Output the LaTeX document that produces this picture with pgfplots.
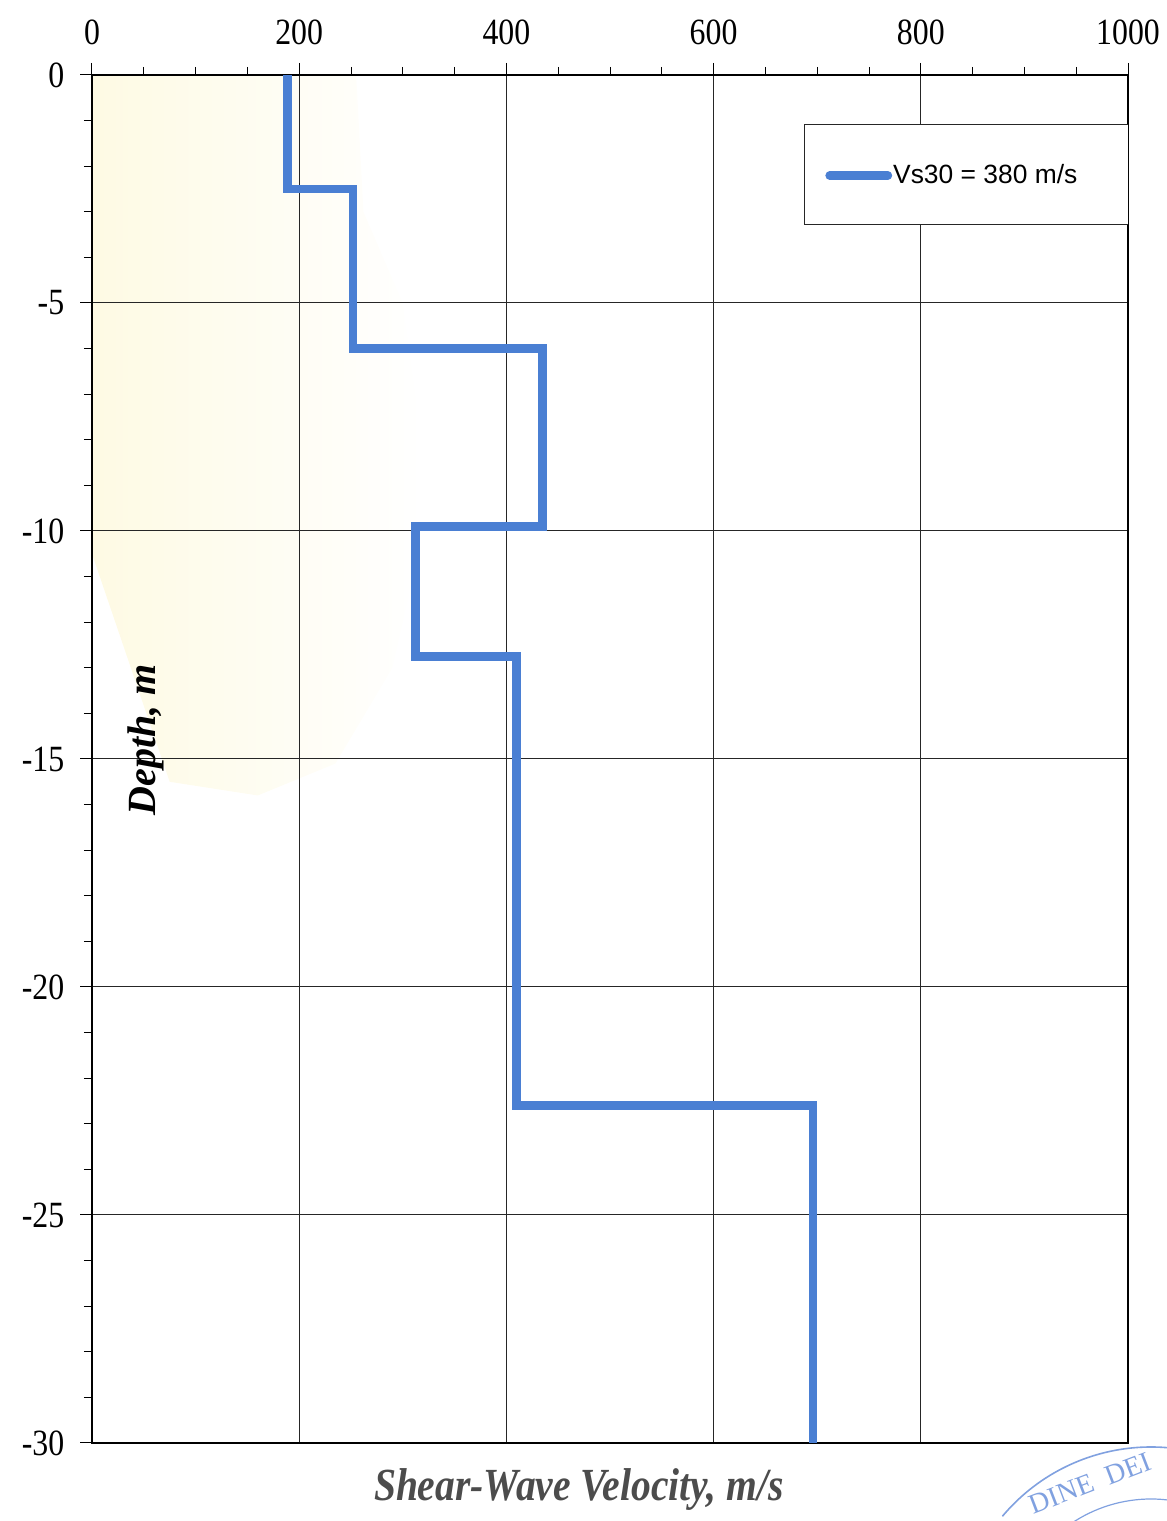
\documentclass[border=0pt]{standalone}
\usepackage{pgfplots}
\pgfplotsset{compat=1.18}
\usepackage{fontspec}
\setmainfont{Liberation Serif}
\newfontfamily\arial{Liberation Sans}
\definecolor{vsblue}{HTML}{4A7FD3}
\definecolor{yel}{HTML}{FCF4C2}
\definecolor{stampblue}{HTML}{6A90DA}
\begin{document}
\begin{tikzpicture}
\begin{axis}[
  set layers,
  scale only axis,
  width=518pt, height=684pt,
  at={(0,0)}, anchor=south west,
  xmin=0, xmax=1000, ymin=-30, ymax=0,
  xtick={0,200,...,1000}, ytick={-30,-25,...,0},
  minor x tick num=3, minor y tick num=4,
  xtick pos=right, xticklabel pos=right,
  ytick pos=left,
  tick align=outside,
  major tick length=6pt, minor tick length=4pt,
  tick style={black, line width=0.5pt},
  axis line style={black, line width=0.6pt},
  grid=major,
  major grid style={black!85, line width=0.5pt},
  /pgf/number format/assume math mode=true,
  /pgf/number format/set thousands separator={},
  ticklabel style={font=\fontsize{18.5}{20}\selectfont, xscale=0.86},
  xticklabel style={anchor=south, inner sep=0pt, yshift=9pt},
  yticklabel style={anchor=east, inner sep=0pt, xshift=-9pt},
  xlabel={Shear-Wave Velocity, m/s},
  xlabel style={at={(axis description cs:0.47,0)}, anchor=center, yshift=-23.5pt,
    font=\bfseries\itshape\fontsize{23}{26}\selectfont, xscale=0.86, text=black!70},
  ylabel={Depth, m},
  ylabel style={at={(axis description cs:0.052,0.514)}, anchor=center, rotate=0,
    font=\bfseries\itshape\fontsize{20}{24}\selectfont},
  legend style={draw=none, fill=none, at={(axis description cs:0.7075,0.9265)}, anchor=west,
    font=\arial\fontsize{13.2}{15}\selectfont, inner sep=0pt, nodes={inner sep=0.5pt}},
  legend image code/.code={\draw[#1, line cap=round] (0pt,0pt) -- (29pt,0pt);},
]
% pale yellow background tint
\addplot[draw=none, on layer=axis background, shading=axis, left color=yel!45!white, middle color=yel, right color=white, forget plot]
  coordinates {(0,0) (255,0) (262,-3) (300,-5) (318,-8) (310,-11) (290,-13) (235,-15.1) (160,-15.8) (75,-15.5) (45,-13.5) (0,-10.5)};
\fill[white] (axis description cs:0.688,0.9635) rectangle (axis description cs:1,0.8904);
\draw[black!85, line width=0.5pt] (axis description cs:0.688,0.9635) rectangle (axis description cs:1,0.8904);
\addplot[color=vsblue, line width=4.4pt] coordinates {
 (189,0) (189,-2.5) (252,-2.5) (252,-6.0) (435,-6.0) (435,-9.9) (312,-9.9) (312,-12.75)
 (410,-12.75) (410,-22.6) (696,-22.6) (696,-30)};
\addlegendentry{Vs30 = 380 m/s}
\end{axis}
% stamp fragment at bottom right
\begin{scope}[stampblue, opacity=0.85]
\draw[line width=0.8pt] (529.5pt,-99pt) ++(140:97pt) arc (140:70:97pt);
\draw[line width=0.6pt] (529.5pt,-99pt) ++(140:71pt) arc (140:70:71pt);
\node[rotate=21, inner sep=0pt, font=\fontsize{14}{15}\selectfont, text=stampblue] at (499pt,-20pt) {DINE\hspace{7pt}DEI};
\end{scope}
\pgfresetboundingbox
\path[use as bounding box] (-46pt,-39pt) rectangle (537.5pt,721.5pt);
\end{tikzpicture}
\end{document}
